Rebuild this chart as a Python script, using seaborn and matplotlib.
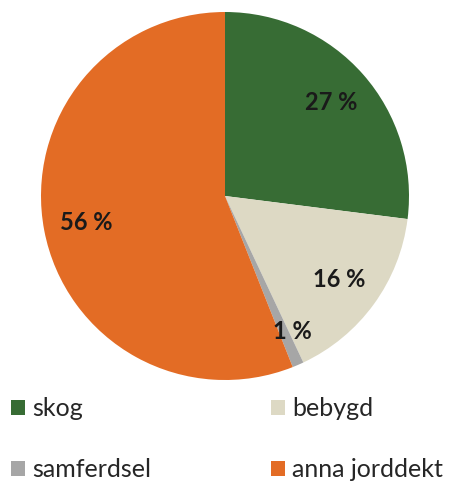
import numpy as np
import matplotlib
matplotlib.use('Agg')
import matplotlib.pyplot as plt
import seaborn as sns

categories = ['skog', 'bebygd', 'samferdsel', 'anna jorddekt']
shares = [27, 16, 1, 56]
colors = ['#376C34', '#DDD9C4', '#A6A6A6', '#E36C25']

sns.set_theme(style='white')
plt.rcParams['font.family'] = ['Lato', 'DejaVu Sans']

fig = plt.figure(figsize=(4.53, 4.84), dpi=100)
# pie occupies the upper part, legend below
ax = fig.add_axes([41 / 453, 104 / 484, 368 / 453, 368 / 484])

wedges, texts, autotexts = ax.pie(shares, colors=colors, startangle=90,
                                  counterclock=False, radius=1,
                                  autopct=lambda p: f'{p:.0f} %',
                                  pctdistance=0.77,
                                  wedgeprops=dict(linewidth=0))
for t in autotexts:
    t.set_fontsize(17)
    t.set_fontweight('bold')
    t.set_color('#1a1a1a')

# the tiny slice gets its label pushed a bit further out
w = wedges[2]
mid = np.deg2rad((w.theta1 + w.theta2) / 2 + 3)
autotexts[2].set_position((0.82 * np.cos(mid), 0.82 * np.sin(mid)))

ax.set_xlim(-1, 1)
ax.set_ylim(-1, 1)
ax.set_aspect('equal')
ax.axis('off')

# legend is filled column by column -> reorder to get row order
order = [0, 2, 1, 3]
fig.legend([wedges[i] for i in order], [categories[i] for i in order],
           loc='upper left', bbox_to_anchor=(-12 / 453, 1 - 375 / 484),
           ncol=2, frameon=False, fontsize=18,
           handlelength=0.56, handleheight=0.56, handletextpad=0.3,
           columnspacing=4.8, labelspacing=1.5, labelcolor='#262626')

fig.savefig('out.png', dpi=100)
